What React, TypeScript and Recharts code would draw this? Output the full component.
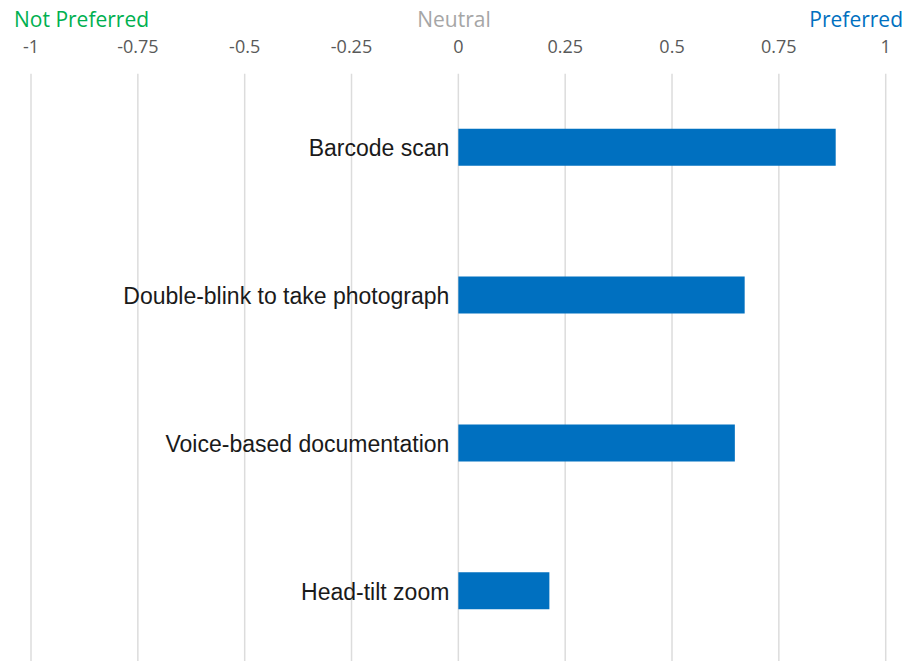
import React from "react";
import { BarChart, Bar, XAxis, YAxis, CartesianGrid, LabelList } from "recharts";

const categories = ["Barcode scan", "Double-blink to take photograph", "Voice-based documentation", "Head-tilt zoom"];
const preferenceScores = [0.883, 0.67, 0.647, 0.213];
const xTicks = [-1, -0.75, -0.5, -0.25, 0, 0.25, 0.5, 0.75, 1];
const headerLabels = ["Not Preferred", "Neutral", "Preferred"];

const data = categories.map((name, i) => ({ name, value: preferenceScores[i] }));

const CategoryLabel = (props: any) => {
  const { x, y, height, index } = props;
  const cy = y + height / 2;
  return (
    <text
      x={x - 9}
      y={cy + 9}
      textAnchor="end"
      fontFamily="'Liberation Sans', Arial, sans-serif"
      fontSize={23}
      fill="#1a1a1a"
    >
      {categories[index]}
    </text>
  );
};

const TopTick = (props: any) => {
  const { x, payload } = props;
  return (
    <text
      x={x}
      y={53}
      textAnchor="middle"
      fontFamily="'Open Sans', sans-serif"
      fontSize={18}
      fill="#595959"
    >
      {String(payload.value)}
    </text>
  );
};

export default function App() {
  return (
    <div style={{ position: "fixed", top: 0, left: 0, width: 912, height: 661, overflow: "hidden", background: "#fff" }}>
      <BarChart
        width={912}
        height={665}
        data={data}
        layout="vertical"
        margin={{ top: 43.8, right: 26.3, left: 31, bottom: 0 }}
        barCategoryGap={0}
      >
        <CartesianGrid horizontal={false} stroke="#dcdcdc" strokeWidth={1.5} />
        <XAxis
          type="number"
          orientation="top"
          domain={[-1, 1]}
          ticks={xTicks}
          axisLine={false}
          tickLine={false}
          height={30}
          tick={<TopTick />}
          interval={0}
        />
        <YAxis type="category" dataKey="name" hide />
        <Bar dataKey="value" fill="#0070C0" barSize={37} isAnimationActive={false}>
          <LabelList dataKey="name" content={<CategoryLabel />} />
        </Bar>
      </BarChart>
      <svg width={912} height={40} style={{ position: "absolute", top: 0, left: 0, pointerEvents: "none" }}>
        <text x={14} y={26.7} fontFamily="'Open Sans', sans-serif" fontSize={21} fill="#00B050">
          {headerLabels[0]}
        </text>
        <text x={454} y={26.7} textAnchor="middle" fontFamily="'Open Sans', sans-serif" fontSize={21} fill="#A6A6A6">
          {headerLabels[1]}
        </text>
        <text x={903} y={26.7} textAnchor="end" fontFamily="'Open Sans', sans-serif" fontSize={21} fill="#0070C0">
          {headerLabels[2]}
        </text>
      </svg>
    </div>
  );
}
